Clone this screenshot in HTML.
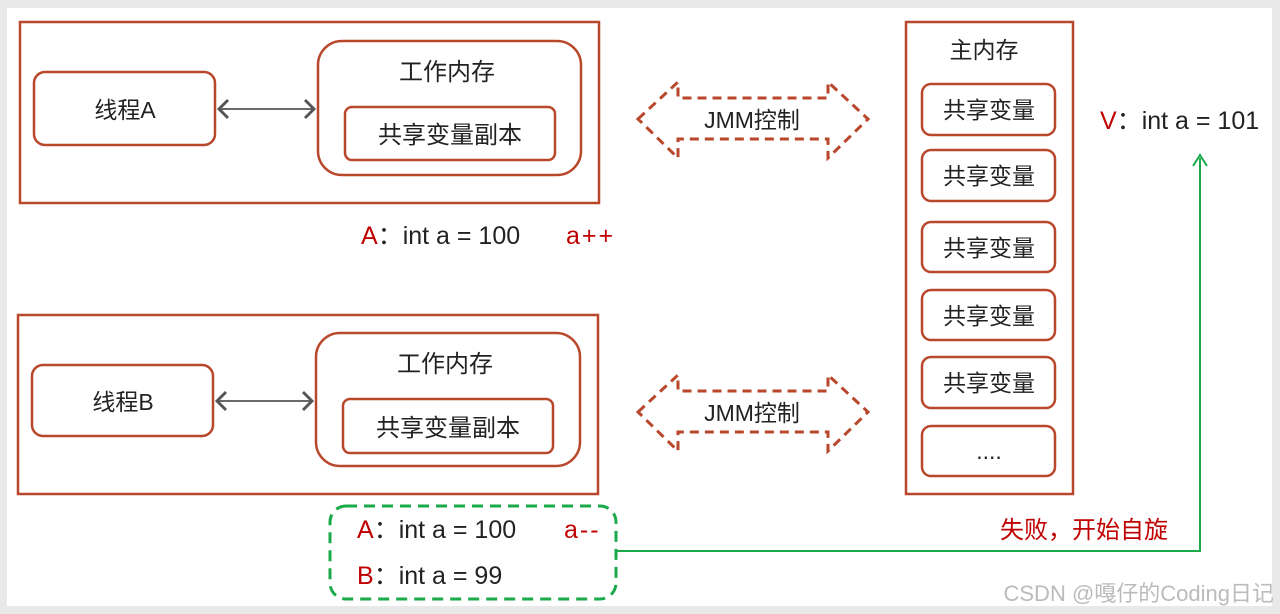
<!DOCTYPE html>
<html><head><meta charset="utf-8"><style>
html,body{margin:0;padding:0;background:#e9e9e9;}
svg{display:block}
text{font-family:"Liberation Sans","Noto Sans CJK SC",sans-serif;fill:#222;}
</style></head><body>
<svg width="1280" height="614" viewBox="0 0 1280 614" xmlns="http://www.w3.org/2000/svg">
<defs>
<marker id="ga" markerWidth="12" markerHeight="12" refX="6" refY="6" orient="auto"><path d="M1,1 L6,6 L1,11" fill="none" stroke="#555" stroke-width="1.6"/></marker>
<marker id="gs" markerWidth="12" markerHeight="12" refX="6" refY="6" orient="auto-start-reverse"><path d="M1,1 L6,6 L1,11" fill="none" stroke="#555" stroke-width="1.6"/></marker>
</defs>
<rect x="7" y="8" width="1265" height="598" fill="#fff"/>
<g fill="none" stroke="#b9472b" stroke-width="2.5">
<rect x="20" y="22" width="579" height="181"/>
<rect x="34" y="72" width="181" height="73" rx="11"/>
<rect x="318" y="41" width="263" height="134" rx="24"/>
<rect x="345" y="107" width="210" height="53" rx="7"/>
<rect x="18" y="315" width="580" height="179"/>
<rect x="32" y="365" width="181" height="71" rx="11"/>
<rect x="316" y="333" width="264" height="133" rx="24"/>
<rect x="343" y="399" width="210" height="54" rx="7"/>
<rect x="906" y="22" width="167" height="472"/>
<rect x="922" y="84" width="133" height="51" rx="9"/>
<rect x="922" y="150" width="133" height="51" rx="9"/>
<rect x="922" y="222" width="133" height="50" rx="9"/>
<rect x="922" y="290" width="133" height="50" rx="9"/>
<rect x="922" y="357" width="133" height="51" rx="9"/>
<rect x="922" y="426" width="133" height="50" rx="9"/>
<g stroke-dasharray="9,6" stroke-width="3">
<polygon points="638,119 678,82 678,98 828,98 828,82 868,119 828,158 828,139 678,139 678,158"/>
<polygon points="638,412 678,375 678,391 828,391 828,375 868,412 828,451 828,432 678,432 678,451"/>
</g>
</g>
<line x1="219" y1="109" x2="314" y2="109" stroke="#555" stroke-width="1.8" marker-end="url(#ga)" marker-start="url(#gs)"/>
<line x1="217" y1="401" x2="312" y2="401" stroke="#555" stroke-width="1.8" marker-end="url(#ga)" marker-start="url(#gs)"/>
<rect x="330" y="506" width="286" height="93" rx="16" fill="none" stroke="#1aaa4a" stroke-width="3" stroke-dasharray="11,7"/>
<polyline points="617,551 1200,551 1200,158" fill="none" stroke="#1aaa4a" stroke-width="2"/>
<path d="M1193,166 L1200,155 L1207,166" fill="none" stroke="#1aaa4a" stroke-width="2"/>
<g text-anchor="middle">
<text x="125" y="118" font-size="23">线程A</text>
<text x="447" y="80" font-size="24">工作内存</text>
<text x="450" y="143" font-size="24">共享变量副本</text>
<text x="123" y="410" font-size="23">线程B</text>
<text x="445" y="372" font-size="24">工作内存</text>
<text x="448" y="436" font-size="24">共享变量副本</text>
<text x="752" y="128" font-size="23">JMM控制</text>
<text x="752" y="421" font-size="23">JMM控制</text>
<text x="984" y="58" font-size="23">主内存</text>
<text x="989" y="118" font-size="23">共享变量</text>
<text x="989" y="184" font-size="23">共享变量</text>
<text x="989" y="256" font-size="23">共享变量</text>
<text x="989" y="324" font-size="23">共享变量</text>
<text x="989" y="391" font-size="23">共享变量</text>
<text x="989" y="459" font-size="23">....</text>
</g>
<g font-size="25">
<text x="361" y="244"><tspan style="fill:#c00000">A</tspan>：int a = 100</text>
<text x="566" y="244" style="fill:#c00000" letter-spacing="2">a++</text>
<text x="357" y="538"><tspan style="fill:#c00000">A</tspan>：int a = 100</text>
<text x="564" y="538" style="fill:#c00000" letter-spacing="2">a--</text>
<text x="357" y="584"><tspan style="fill:#c00000">B</tspan>：int a = 99</text>
<text x="1100" y="129"><tspan style="fill:#c00000">V</tspan>：int a = 101</text>
<text x="1000" y="538" font-size="24" style="fill:#c00000">失败，开始自旋</text>
</g>
<text x="1274" y="601" font-size="22" text-anchor="end" style="fill:#bbb">CSDN @嘎仔的Coding日记</text>
</svg>
</body></html>
